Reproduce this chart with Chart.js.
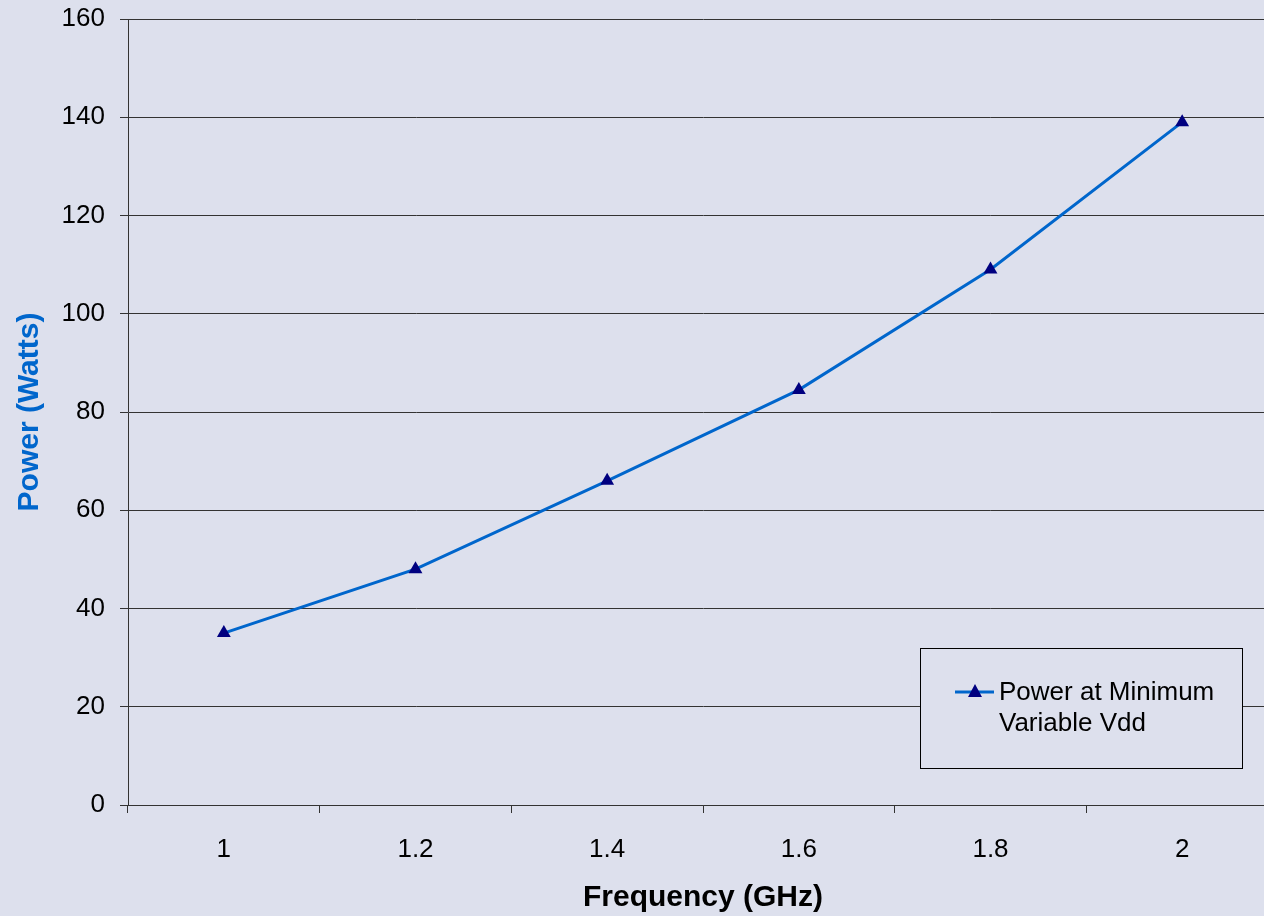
<!DOCTYPE html>
<html>
	<head>
		<meta charset="UTF-8">
		<title></title>
		<script src="https://cdn.jsdelivr.net/npm/chart.js@4/dist/chart.umd.min.js"></script>
		<style type="text/css">
			*{
				margin: 0;
				padding: 0;
			}
			body{
				background: rgb(221,224,237);
				overflow: hidden;
			}
			#wrap{
				position: relative;
				width: 1286px;
				height: 916px;
			}
		</style>
	</head>
	<body>
		<div id="wrap">
			<canvas id="showChart"></canvas>
		</div>

		<script type="text/javascript">
			var frequency=["1","1.2","1.4","1.6","1.8","2"];
			var power=[35,48,66,84.5,109,139];
			var yTicks=[0,20,40,60,80,100,120,140,160];
			var seriesName=["Power at Minimum","Variable Vdd"];

			var lineColor="#0066cc";
			var markColor="#000080";
			var bg="rgb(221,224,237)";
			var gridColor="#333333";
			var font="'Liberation Sans', Arial, sans-serif";

			// legend box drawn by hand, sits over the grid like the original
			var legendBox={
				id:"legendBox",
				afterDraw:function(chart){
					var ctx=chart.ctx;
					ctx.save();
					ctx.fillStyle=bg;
					ctx.fillRect(920,648,322,120);
					ctx.strokeStyle="#000";
					ctx.lineWidth=1;
					ctx.strokeRect(920.5,648.5,322,120);
					ctx.strokeStyle=lineColor;
					ctx.lineWidth=3;
					ctx.beginPath();
					ctx.moveTo(955,692);
					ctx.lineTo(994,692);
					ctx.stroke();
					ctx.fillStyle=markColor;
					ctx.beginPath();
					ctx.moveTo(975,684);
					ctx.lineTo(982,697);
					ctx.lineTo(968,697);
					ctx.closePath();
					ctx.fill();
					ctx.fillStyle="#000";
					ctx.font="26px "+font;
					ctx.textBaseline="middle";
					ctx.fillText(seriesName[0],999,693);
					ctx.fillText(seriesName[1],999,724);
					ctx.restore();
				}
			};

			var ctx=document.getElementById("showChart").getContext("2d");
			var chart=new Chart(ctx,{
				type:"line",
				data:{
					labels:frequency,
					datasets:[{
						label:seriesName.join(" "),
						data:power,
						borderColor:lineColor,
						borderWidth:3,
						pointStyle:"triangle",
						pointRadius:8,
						pointBackgroundColor:markColor,
						pointBorderColor:markColor,
						pointBorderWidth:0,
						tension:0
					}]
				},
				options:{
					responsive:true,
					maintainAspectRatio:false,
					animation:false,
					layout:{padding:{top:19,left:0,right:0,bottom:0}},
					plugins:{
						legend:{display:false},
						tooltip:{enabled:false}
					},
					scales:{
						x:{
							offset:true,
							grid:{
								offset:true,
								drawOnChartArea:false,
								tickLength:8,
								color:gridColor
							},
							border:{color:gridColor,width:1},
							ticks:{
								color:"#000",
								padding:21,
								maxRotation:0,
								font:{family:font,size:26}
							},
							title:{
								display:true,
								text:"Frequency (GHz)",
								color:"#000",
								padding:{top:0,bottom:0},
								font:{family:font,size:30,weight:"bold"}
							},
							afterFit:function(s){ s.height=111; }
						},
						y:{
							min:0,
							max:160,
							afterBuildTicks:function(s){
								s.ticks=yTicks.map(function(v){ return {value:v}; });
							},
							grid:{
								tickLength:8,
								color:gridColor
							},
							border:{color:gridColor,width:1},
							ticks:{
								color:"#000",
								padding:15,
								font:{family:font,size:26}
							},
							title:{
								display:true,
								text:"Power (Watts)",
								color:lineColor,
								padding:{top:12,bottom:0},
								font:{family:font,size:30,weight:"bold"}
							},
							afterFit:function(s){ s.width=128; s.paddingTop=0; s.paddingBottom=0; }
						}
					}
				},
				plugins:[legendBox]
			});
		</script>
	</body>
</html>
